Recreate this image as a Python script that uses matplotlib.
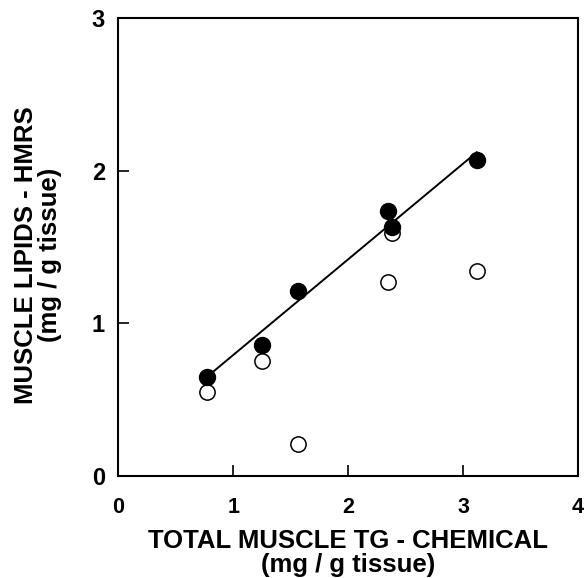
import numpy as np
import matplotlib
matplotlib.use('Agg')
import matplotlib.pyplot as plt

plt.rcParams['font.family'] = ['Liberation Sans', 'DejaVu Sans']
plt.rcParams['font.weight'] = 'bold'

# chemical TG (x) vs HMRS lipids (y)
tg_chem = [0.77, 1.25, 1.56, 2.35, 2.38, 3.12]
hmrs_filled = [0.65, 0.86, 1.21, 1.74, 1.63, 2.07]
hmrs_open = [0.55, 0.75, 0.21, 1.27, 1.59, 1.34]

fig = plt.figure(figsize=(5.84, 5.78), dpi=100)
ax = fig.add_axes([0.2026, 0.177, 0.787, 0.791])

# regression line through filled points
slope, icpt = np.polyfit(tg_chem, hmrs_filled, 1)
xs = np.array([min(tg_chem), max(tg_chem)])
ax.plot(xs, slope * xs + icpt, color='black', lw=1.4, zorder=1)

ax.plot(tg_chem, hmrs_open, 'o', ms=11, mfc='white', mec='black', mew=1.1, zorder=2)
ax.plot(tg_chem, hmrs_filled, 'o', ms=11.5, mfc='black', mec='black', zorder=3)

ax.set_xlim(0, 4)
ax.set_ylim(0, 3)
ax.set_xticks([0, 1, 2, 3, 4])
ax.set_yticks([0, 1, 2, 3])
ax.tick_params(direction='in', length=8, width=1.2)
ax.tick_params(axis='x', pad=15, labelsize=15.5)
ax.tick_params(axis='y', pad=9.5, labelsize=17)
for s in ax.spines.values():
    s.set_linewidth(1.5)

ax.set_xlabel('TOTAL MUSCLE TG - CHEMICAL\n(mg / g tissue)', fontsize=18.5,
              fontweight='bold', linespacing=1.0, va='center')
ax.set_ylabel('MUSCLE LIPIDS - HMRS\n(mg / g tissue)', fontsize=18.5,
              fontweight='bold', linespacing=1.0, va='center')
ax.xaxis.set_label_coords(0.5, -0.168)
ax.yaxis.set_label_coords(-0.174, 0.483)

fig.savefig('out.png', dpi=100)
